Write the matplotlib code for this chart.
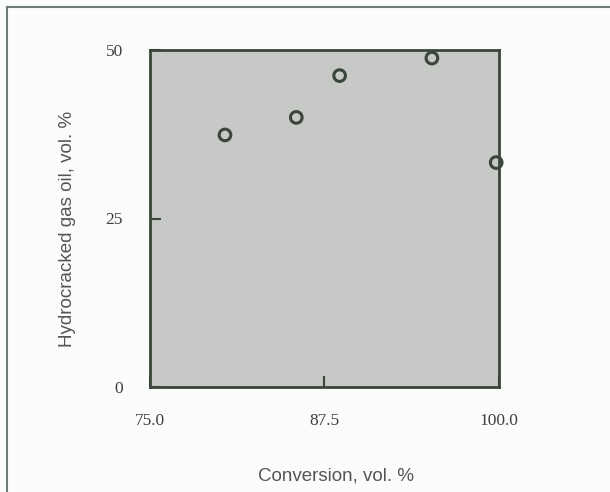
import matplotlib
matplotlib.use('Agg')
import matplotlib.pyplot as plt
from matplotlib.lines import Line2D

conversion = [80.4, 85.5, 88.6, 95.2, 99.8]
gas_oil = [37.4, 40.0, 46.2, 48.8, 33.3]
xticks = [75.0, 87.5, 100.0]
xtick_labels = ['75.0', '87.5', '100.0']
yticks = [0, 25, 50]
ytick_labels = ['0', '25', '50']

dark = '#3a463a'
fig = plt.figure(figsize=(6.1, 4.92), dpi=100, facecolor='#fbfcfc')
ax = fig.add_axes([149.5/610, 1-387/492, (499-149.5)/610, (387-50)/492])
ax.set_facecolor('#c6c9c6')

ax.scatter(conversion, gas_oil, s=70, facecolors='none', edgecolors=dark,
           linewidths=2.2, zorder=3, clip_on=False)

ax.set_xlim(75, 100)
ax.set_ylim(0, 50)
ax.set_xticks(xticks)
ax.set_xticklabels(xtick_labels, family='Liberation Serif', fontsize=12.5, color='#404040')
ax.set_yticks(yticks)
ax.set_yticklabels(ytick_labels, family='Liberation Serif', fontsize=12.5, color='#404040')
ax.tick_params(direction='in', length=8, width=1.5, color=dark)
ax.tick_params(axis='x', pad=19)
ax.tick_params(axis='y', pad=19)
for s in ax.spines.values():
    s.set_color(dark)
    s.set_linewidth(2.0)

ax.set_xlabel('Conversion, vol. %', family='Liberation Sans', fontsize=13.5, color='#555555', va='center')
ax.xaxis.set_label_coords(0.534, -0.264)
ax.set_ylabel('Hydrocracked gas oil, vol. %', family='Liberation Sans', fontsize=13.5, color='#555555', va='center')
ax.yaxis.set_label_coords(-0.236, 0.469)

# frame around the figure (top and left edges visible)
fig.add_artist(Line2D([7/610, 7/610], [0, 1-7/492], transform=fig.transFigure, color='#707a78', lw=1.5))
fig.add_artist(Line2D([7/610, 1], [1-7/492, 1-7/492], transform=fig.transFigure, color='#707a78', lw=1.5))

fig.savefig('out.png', dpi=100, facecolor=fig.get_facecolor())
